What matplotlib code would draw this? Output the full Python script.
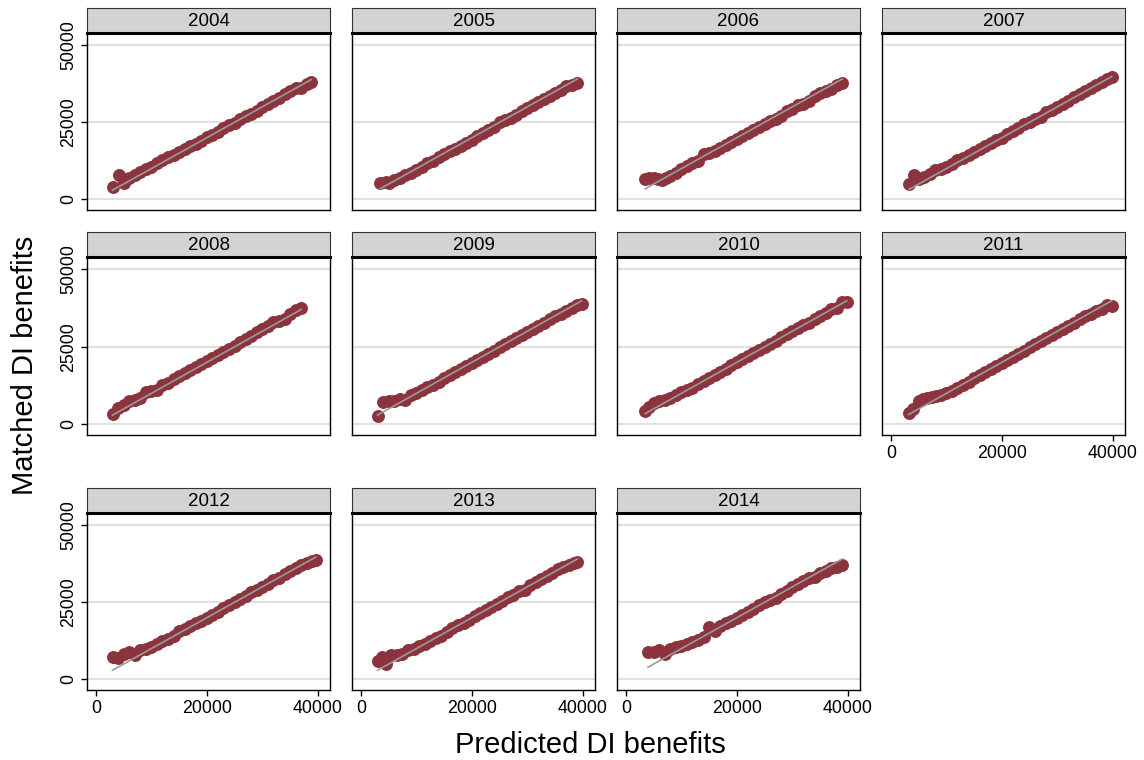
import matplotlib
matplotlib.use('Agg')
import matplotlib.pyplot as plt

# ---------------- data ----------------
years = ["2004", "2005", "2006", "2007", "2008", "2009", "2010", "2011", "2012", "2013", "2014"]

x2004 = [3000, 4200, 5000, 6000, 7000, 8000, 9000, 10000, 11000, 12000, 13000, 14000, 15000, 16000, 17000, 18000, 19000, 20000, 21000, 22000, 23000, 24000, 25000, 26000, 27000, 28000, 29000, 30000, 31000, 32000, 33000, 34000, 35000, 36000, 37000, 38000, 38800]
y2004 = [4200, 8000, 5200, 7000, 8000, 9000, 10000, 10600, 11800, 12900, 13600, 14500, 15400, 16200, 17200, 18100, 19000, 20100, 21000, 22000, 23000, 24000, 24800, 26000, 27000, 27600, 28800, 29800, 30900, 31800, 32800, 34000, 35000, 36000, 36200, 37400, 38000]

x2005 = [3500, 4500, 5000, 6000, 7000, 8000, 9000, 10000, 11000, 12000, 13000, 14000, 15000, 16000, 17000, 18000, 19000, 20000, 21000, 22000, 23000, 24000, 25000, 26000, 27000, 28000, 29000, 30000, 31000, 32000, 33000, 34000, 35000, 36000, 37000, 38000, 39000]
y2005 = [5200, 5600, 5300, 6400, 6800, 7800, 8600, 9400, 10600, 11800, 12600, 13600, 14600, 15600, 16400, 17400, 18200, 19200, 20400, 21600, 22500, 23500, 25000, 25600, 26500, 27500, 28500, 29600, 30600, 31600, 32400, 33400, 34400, 35400, 36800, 37200, 37800]

x2006 = [3500, 4200, 5000, 5800, 6500, 7200, 8000, 9000, 10000, 11000, 12000, 13000, 14000, 15000, 16000, 17000, 18000, 19000, 20000, 21000, 22000, 23000, 24000, 25000, 26000, 27000, 28000, 29000, 30000, 31000, 32000, 33000, 34000, 35000, 36000, 37000, 38000, 39000]
y2006 = [6600, 7000, 6800, 6600, 6200, 6800, 7600, 8600, 9800, 10800, 11800, 12600, 14600, 15000, 15800, 16800, 17600, 18600, 19600, 20600, 21600, 22400, 23600, 24600, 25400, 26200, 27000, 28600, 29400, 30600, 30800, 31800, 33400, 34400, 35200, 35800, 37200, 37600]

x2007 = [3300, 4200, 5000, 6000, 7000, 8000, 9000, 10000, 11000, 12000, 13000, 14000, 15000, 16000, 17000, 18000, 19000, 20000, 21000, 22000, 23000, 24000, 25000, 26000, 27000, 28000, 29000, 30000, 31000, 32000, 33000, 34000, 35000, 36000, 37000, 38000, 39000, 39800]
y2007 = [5000, 8000, 6500, 7200, 8200, 9400, 9800, 10400, 11600, 12800, 13400, 14400, 15400, 16400, 17400, 18400, 19400, 20000, 21200, 22200, 23200, 24400, 25200, 26000, 26800, 28200, 29000, 29800, 31000, 32000, 33200, 34000, 35000, 36000, 37000, 38000, 39000, 39800]

x2008 = [3000, 4000, 5000, 6000, 7000, 8000, 9000, 10000, 11000, 12000, 13000, 14000, 15000, 16000, 17000, 18000, 19000, 20000, 21000, 22000, 23000, 24000, 25000, 26000, 27000, 28000, 29000, 30000, 31000, 32000, 33000, 34000, 35000, 36000, 37000]
y2008 = [3200, 5400, 6200, 7400, 8000, 8400, 10600, 10800, 11200, 12600, 13400, 14600, 15600, 16600, 17600, 18400, 19400, 20400, 21400, 22400, 23400, 24400, 25400, 26400, 27400, 28600, 29600, 30600, 31800, 33000, 33200, 34000, 35400, 36800, 37400]

x2009 = [3000, 4000, 5000, 6000, 7000, 8000, 9000, 10000, 11000, 12000, 13000, 14000, 15000, 16000, 17000, 18000, 19000, 20000, 21000, 22000, 23000, 24000, 25000, 26000, 27000, 28000, 29000, 30000, 31000, 32000, 33000, 34000, 35000, 36000, 37000, 38000, 39000, 39800]
y2009 = [2800, 7200, 7400, 7600, 8200, 8000, 9600, 10200, 11000, 12000, 12800, 13800, 14800, 15800, 16800, 17800, 18800, 19800, 20800, 21800, 22800, 23800, 24800, 25800, 26800, 27800, 28800, 29800, 30800, 31800, 32800, 33800, 34800, 35600, 36600, 37600, 38400, 38800]

x2010 = [3500, 4200, 5000, 6000, 7000, 8000, 9000, 10000, 11000, 12000, 13000, 14000, 15000, 16000, 17000, 18000, 19000, 20000, 21000, 22000, 23000, 24000, 25000, 26000, 27000, 28000, 29000, 30000, 31000, 32000, 33000, 34000, 35000, 36000, 37000, 38000, 39000, 39800]
y2010 = [4200, 5600, 6800, 7400, 8000, 8600, 9400, 10400, 11200, 11800, 13000, 14000, 15000, 16000, 17000, 18000, 19000, 20000, 21000, 22000, 23000, 24000, 25000, 26000, 27000, 28000, 29000, 30000, 31000, 32000, 32800, 33800, 35000, 36000, 37000, 37400, 39400, 39400]

x2011 = [3200, 4000, 5000, 5800, 6600, 7400, 8200, 9000, 10000, 11000, 12000, 13000, 14000, 15000, 16000, 17000, 18000, 19000, 20000, 21000, 22000, 23000, 24000, 25000, 26000, 27000, 28000, 29000, 30000, 31000, 32000, 33000, 34000, 35000, 36000, 37000, 38000, 39000, 39800]
y2011 = [3800, 5000, 7600, 8200, 8400, 8800, 9200, 9600, 10200, 10800, 11800, 12800, 13800, 14800, 15800, 16800, 17800, 18800, 19800, 20800, 21800, 22800, 23800, 24800, 25800, 26800, 27800, 28800, 29800, 30800, 31800, 32800, 33800, 34800, 35600, 36400, 37000, 38600, 38200]

x2012 = [3000, 4000, 5000, 6000, 7000, 8000, 9000, 10000, 11000, 12000, 13000, 14000, 15000, 16000, 17000, 18000, 19000, 20000, 21000, 22000, 23000, 24000, 25000, 26000, 27000, 28000, 29000, 30000, 31000, 32000, 33000, 34000, 35000, 36000, 37000, 38000, 39000, 39600]
y2012 = [7400, 6800, 8200, 9000, 8000, 9400, 9800, 10600, 11400, 12400, 13200, 14000, 15600, 16400, 17200, 18200, 19000, 20000, 21000, 22000, 23000, 24200, 25000, 26000, 27000, 28200, 29000, 30000, 31000, 32200, 33000, 34000, 35000, 36000, 37000, 37800, 38400, 38600]

x2013 = [3000, 3800, 4500, 5500, 6500, 7500, 8500, 9500, 10500, 11500, 12500, 13500, 14500, 15500, 16500, 17500, 18500, 19500, 20500, 21500, 22500, 23500, 24500, 25500, 26500, 27500, 28500, 29500, 30500, 31500, 32500, 33500, 34500, 35500, 36500, 37500, 38500, 39000]
y2013 = [6000, 7400, 5000, 7800, 8000, 8400, 9400, 10000, 10800, 11600, 12400, 13400, 14200, 15400, 16800, 17600, 18400, 19400, 20400, 21400, 22400, 23400, 24400, 25400, 26600, 27400, 28600, 29000, 30600, 31600, 32400, 33400, 34400, 35800, 36400, 37200, 37800, 38000]

x2014 = [4000, 5000, 6000, 7000, 8000, 9000, 10000, 11000, 12000, 13000, 14000, 15000, 16000, 17000, 18000, 19000, 20000, 21000, 22000, 23000, 24000, 25000, 26000, 27000, 28000, 29000, 30000, 31000, 32000, 33000, 34000, 35000, 36000, 37000, 38000, 39000]
y2014 = [9000, 9000, 9600, 8200, 10000, 10400, 11000, 11400, 12000, 12800, 13800, 17000, 15800, 17400, 18200, 19000, 20000, 21000, 21800, 22800, 24000, 25200, 25800, 26400, 27600, 28800, 29800, 30800, 31800, 32800, 33200, 34600, 35000, 36000, 36400, 37200]

xs = [x2004, x2005, x2006, x2007, x2008, x2009, x2010, x2011, x2012, x2013, x2014]
ys = [y2004, y2005, y2006, y2007, y2008, y2009, y2010, y2011, y2012, y2013, y2014]

xticks = [0, 20000, 40000]
yticks = [0, 25000, 50000]
xlabel = "Predicted DI benefits"
ylabel = "Matched DI benefits"

# ---------------- style ----------------
W, H = 1144, 760
plt.rcParams['font.family'] = ['Liberation Sans', 'DejaVu Sans']
fig = plt.figure(figsize=(W / 100, H / 100), dpi=100)

point_color = '#8C343D'
line_color = '#9a9a9a'
grid_color = '#e0e0e0'
strip_color = '#d3d3d3'

col_left = [87, 352, 617, 882]
pw = 243
rows = [(33, 210), (257, 435), (513, 690)]
strip_h = 25

for i, yr in enumerate(years):
    r, c = divmod(i, 4)
    top, bot = rows[r]
    l = col_left[c]
    ax = fig.add_axes([l / W, 1 - bot / H, pw / W, (bot - top) / H])
    ax.set_xlim(-1600, 42200)
    ax.set_ylim(-3400, 53900)
    for yt in yticks:
        ax.axhline(yt, color=grid_color, lw=1.5, zorder=0)
    ax.plot(xs[i], ys[i], 'o', ms=8.3, color=point_color, mec=point_color, zorder=2)
    x0, x1 = min(xs[i]), max(xs[i])
    ax.plot([x0, x1], [x0, x1], '-', color=line_color, lw=1.2, zorder=3)
    for s in ax.spines.values():
        s.set_color('black')
        s.set_linewidth(1.0)

    show_x = (r == 2) or (yr == "2011")
    show_y = (c == 0)
    ax.set_xticks(xticks)
    ax.set_yticks(yticks)
    ax.tick_params(axis='both', labelsize=12.8, length=4, width=1, color='black', pad=3)
    if show_x:
        ax.set_xticklabels([str(t) for t in xticks])
    else:
        ax.tick_params(axis='x', length=0, labelbottom=False)
    if show_y:
        ax.set_yticklabels([str(t) for t in yticks])
        for lab in ax.get_yticklabels():
            lab.set_rotation(90)
            lab.set_va('center')
    else:
        ax.tick_params(axis='y', length=0, labelleft=False)

    # strip
    sax = fig.add_axes([l / W, 1 - top / H, pw / W, strip_h / H])
    sax.set_facecolor(strip_color)
    sax.set_xticks([])
    sax.set_yticks([])
    for s in sax.spines.values():
        s.set_color('#333333')
        s.set_linewidth(0.8)
    sax.spines['bottom'].set_color('black')
    sax.spines['bottom'].set_linewidth(2.2)
    sax.text(0.5, 0.47, yr, ha='center', va='center', fontsize=13.5, transform=sax.transAxes)

fig.text(25 / W, 1 - 365 / H, ylabel, rotation=90, ha='center', va='center', fontsize=21)
fig.text(590 / W, 1 - 745 / H, xlabel, ha='center', va='center', fontsize=21)

fig.savefig('out.png', dpi=100, facecolor='white')
